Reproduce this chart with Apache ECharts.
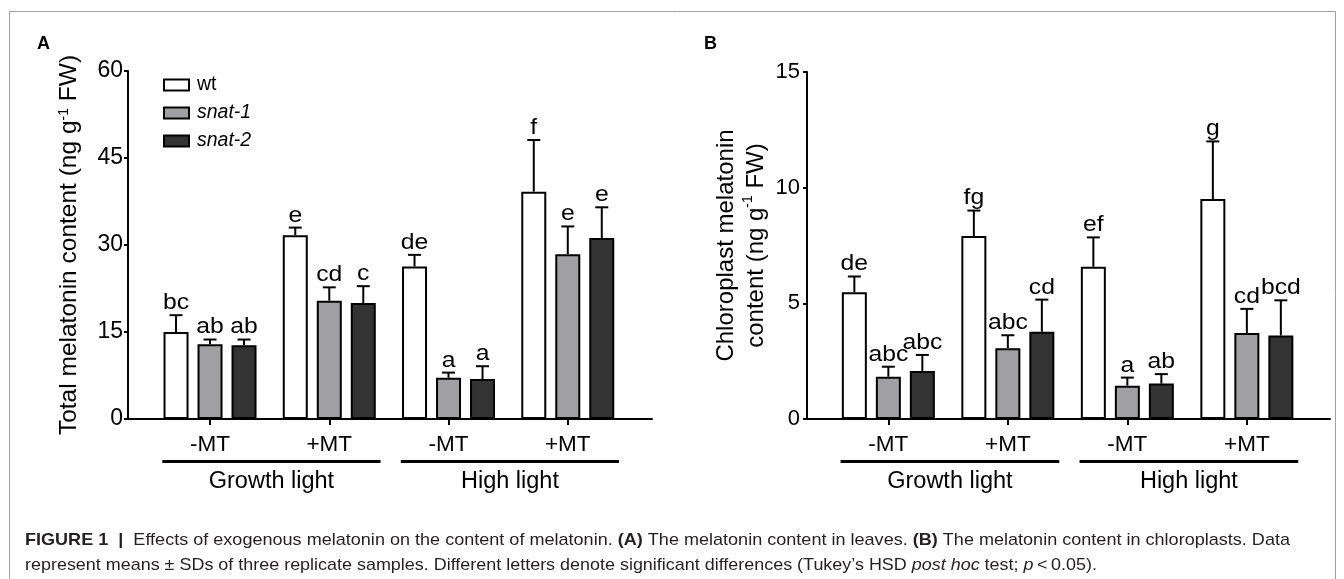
<!DOCTYPE html>
<html><head><meta charset="utf-8">
<script src="https://cdn.jsdelivr.net/npm/echarts@6/dist/echarts.min.js"></script>
<style>html,body{margin:0;padding:0;background:#fff}#c{width:1344px;height:579px}</style>
</head><body><div id="c"></div>
<script>
// ---------- data ----------
const categories = ['-MT', '+MT', '-MT', '+MT'];
const lightGroups = ['Growth light', 'High light'];
const groupStart = [0, 2];
const groupEnd = [1, 3];
const genotypes = ['wt', 'snat-1', 'snat-2'];

// Panel A: total melatonin content (ng g-1 FW)
const totalWt = [15.0, 31.7, 26.3, 39.2];
const totalWtSD = [2.9, 1.3, 2.0, 8.9];
const totalSnat1 = [12.9, 20.4, 7.1, 28.4];
const totalSnat1SD = [0.8, 2.3, 0.9, 4.8];
const totalSnat2 = [12.7, 20.0, 6.9, 31.2];
const totalSnat2SD = [1.0, 2.9, 2.2, 5.3];
const totalWtLetters = ['bc', 'e', 'de', 'f'];
const totalSnat1Letters = ['ab', 'cd', 'a', 'e'];
const totalSnat2Letters = ['ab', 'c', 'a', 'e'];
const totalAxisMax = 60, totalAxisStep = 15;

// Panel B: chloroplast melatonin content (ng g-1 FW)
const chlWt = [5.48, 7.91, 6.58, 9.51];
const chlWtSD = [0.68, 1.10, 1.27, 2.49];
const chlSnat1 = [1.83, 3.06, 1.44, 3.72];
const chlSnat1SD = [0.43, 0.56, 0.35, 1.04];
const chlSnat2 = [2.08, 3.77, 1.53, 3.61];
const chlSnat2SD = [0.69, 1.39, 0.41, 1.52];
const chlWtLetters = ['de', 'fg', 'ef', 'g'];
const chlSnat1Letters = ['abc', 'abc', 'a', 'cd'];
const chlSnat2Letters = ['abc', 'cd', 'ab', 'bcd'];
const chlAxisMax = 15, chlAxisStep = 5;

// ---------- style ----------
const FONT = '"Liberation Sans", Arial, Helvetica, sans-serif';
const COLORS = ['#ffffff', '#a0a0a4', '#333333'];
const BAR_W = 25, BAR_GAP = 9;

const chart = echarts.init(document.getElementById('c'), null, {renderer: 'canvas'});

function barSeries(name, data, g, axisIdx) {
  return {
    type: 'bar', name, data, xAxisIndex: axisIdx, yAxisIndex: axisIdx,
    barWidth: BAR_W, barGap: (BAR_GAP / BAR_W * 100) + '%',
    itemStyle: {color: COLORS[g], borderColor: '#000', borderWidth: 2},
    z: 2, silent: true
  };
}
function errSeries(means, sds, letters, g, axisIdx) {
  return {
    type: 'custom', xAxisIndex: axisIdx, yAxisIndex: axisIdx, z: 3, silent: true,
    data: means.map((m, i) => [i, m, m + sds[i]]),
    encode: {x: 0, y: [1, 2]},
    renderItem: function (params, api) {
      const i = api.value(0);
      const b = api.coord([i, api.value(1)]);
      const t = api.coord([i, api.value(2)]);
      const x = b[0] + (g - 1) * (BAR_W + BAR_GAP);
      return {type: 'group', children: [
        {type: 'line', shape: {x1: x, y1: b[1], x2: x, y2: t[1]}, style: {stroke: '#000', lineWidth: 2}},
        {type: 'line', shape: {x1: x - 6.5, y1: t[1], x2: x + 6.5, y2: t[1]}, style: {stroke: '#000', lineWidth: 2}},
        {type: 'text', x: x, y: t[1] - 1, scaleX: 1.15,
          style: {text: letters[params.dataIndex], x: 0, y: 0, align: 'center', verticalAlign: 'bottom',
            fontSize: 21.5, fontFamily: FONT, fill: '#000'}}
      ]};
    }
  };
}
function groupSeries(axisIdx) {
  return {
    type: 'custom', xAxisIndex: axisIdx, yAxisIndex: axisIdx, silent: true, z: 3,
    data: groupStart.map((s, k) => [s, groupEnd[k], 0]),
    encode: {x: [0, 1], y: 2},
    renderItem: function (params, api) {
      const p0 = api.coord([api.value(0), 0]);
      const p1 = api.coord([api.value(1), 0]);
      const band = api.size([1, 0])[0];
      const x0 = p0[0] - band * 0.40, x1 = p1[0] + band * 0.43;
      return {type: 'group', children: [
        {type: 'line', shape: {x1: x0, y1: p0[1] + 42.5, x2: x1, y2: p0[1] + 42.5}, style: {stroke: '#000', lineWidth: 3}},
        {type: 'text', x: (x0 + x1) / 2, y: p0[1] + 62.5,
          style: {text: lightGroups[params.dataIndex], x: 0, y: 0, align: 'center', verticalAlign: 'middle',
            fontSize: 23.5, fontFamily: FONT, fill: '#000'}}
      ]};
    }
  };
}

const outerX = (gi) => ({type: 'value', gridIndex: gi, min: 0, max: 1,
  axisLine: {show: true, lineStyle: {color: '#000', width: 2}}, axisTick: {show: false},
  axisLabel: {show: false}, splitLine: {show: false}});
const innerX = (gi) => ({type: 'category', gridIndex: gi, data: categories,
  axisLine: {show: false},
  axisTick: {show: true, alignWithLabel: true, length: 6, lineStyle: {color: '#000', width: 2}},
  axisLabel: {color: '#000', fontSize: 22.5, fontFamily: FONT, margin: 14}, splitLine: {show: false}});
const hiddenY = (gi, max) => ({type: 'value', gridIndex: gi, min: 0, max: max, show: false});
const supRichA = {n: {fontSize: 24.5, color: '#000', fontFamily: FONT}, s: {fontSize: 14, color: '#000', verticalAlign: 'top', fontFamily: FONT}};
const supRichB = {n: {fontSize: 24, color: '#000', fontFamily: FONT, lineHeight: 30}, s: {fontSize: 14, color: '#000', verticalAlign: 'top', fontFamily: FONT}};

const option = {
  animation: false,
  textStyle: {fontFamily: FONT},
  title: [
    {text: 'A', left: 37, top: 35, padding: 0, textStyle: {fontSize: 18, fontWeight: 'bold', color: '#000', fontFamily: FONT}},
    {text: 'B', left: 704, top: 35, padding: 0, textStyle: {fontSize: 18, fontWeight: 'bold', color: '#000', fontFamily: FONT}}
  ],
  legend: {
    data: genotypes, left: 163, top: 75, orient: 'vertical', icon: 'rect',
    itemWidth: 25, itemHeight: 11, itemGap: 8, padding: 0, selectedMode: false,
    formatter: (n) => n === 'wt' ? n : '{i|' + n + '}',
    textStyle: {fontSize: 19.5, color: '#000', fontFamily: FONT, lineHeight: 12, padding: [0, 0, 0, 3],
      rich: {i: {fontStyle: 'italic', fontSize: 19.5, color: '#000', fontFamily: FONT, lineHeight: 12}}}
  },
  grid: [
    {left: 128, top: 71, width: 524, height: 348, outerBoundsMode: 'none'},
    {left: 150.4, top: 71, width: 477, height: 348, outerBoundsMode: 'none'},
    {left: 807, top: 72, width: 523, height: 347, outerBoundsMode: 'none'},
    {left: 828.6, top: 72, width: 478, height: 347, outerBoundsMode: 'none'}
  ],
  xAxis: [outerX(0), innerX(1), outerX(2), innerX(3)],
  yAxis: [
    {type: 'value', gridIndex: 0, min: 0, max: totalAxisMax, interval: totalAxisStep,
      axisLine: {show: true, lineStyle: {color: '#000', width: 2}},
      axisTick: {show: true, length: 4, lineStyle: {color: '#000', width: 2}},
      axisLabel: {color: '#000', fontSize: 23, fontFamily: FONT, margin: 5}, splitLine: {show: false},
      name: '{n|Total melatonin content (ng g}{s|-1}{n| FW)}', nameLocation: 'middle', nameGap: 46,
      nameTextStyle: {color: '#000', fontSize: 24.5, fontFamily: FONT, rich: supRichA}},
    hiddenY(1, totalAxisMax),
    {type: 'value', gridIndex: 2, min: 0, max: chlAxisMax, interval: chlAxisStep,
      axisLine: {show: true, lineStyle: {color: '#000', width: 2}},
      axisTick: {show: true, length: 4, lineStyle: {color: '#000', width: 2}},
      axisLabel: {color: '#000', fontSize: 22, fontFamily: FONT, margin: 7}, splitLine: {show: false},
      name: '{n|Chloroplast melatonin}\n{n|content (ng g}{s|-1}{n| FW)}', nameLocation: 'middle', nameGap: 34,
      nameTextStyle: {color: '#000', fontSize: 24, lineHeight: 30, fontFamily: FONT, rich: supRichB}},
    hiddenY(3, chlAxisMax)
  ],
  series: [
    barSeries('wt', totalWt, 0, 1), barSeries('snat-1', totalSnat1, 1, 1), barSeries('snat-2', totalSnat2, 2, 1),
    errSeries(totalWt, totalWtSD, totalWtLetters, 0, 1),
    errSeries(totalSnat1, totalSnat1SD, totalSnat1Letters, 1, 1),
    errSeries(totalSnat2, totalSnat2SD, totalSnat2Letters, 2, 1),
    groupSeries(1),
    barSeries('wt', chlWt, 0, 3), barSeries('snat-1', chlSnat1, 1, 3), barSeries('snat-2', chlSnat2, 2, 3),
    errSeries(chlWt, chlWtSD, chlWtLetters, 0, 3),
    errSeries(chlSnat1, chlSnat1SD, chlSnat1Letters, 1, 3),
    errSeries(chlSnat2, chlSnat2SD, chlSnat2Letters, 2, 3),
    groupSeries(3)
  ]
};

// ---------- caption ----------
const capLine1 = [
  ['b', 'FIGURE 1  |  '], ['n', 'Effects of exogenous melatonin on the content of melatonin. '],
  ['b', '(A)'], ['n', ' The melatonin content in leaves. '], ['b', '(B)'],
  ['n', ' The melatonin content in chloroplasts. Data']
];
const capLine2 = [
  ['n', 'represent means \u00b1 SDs of three replicate samples. Different letters denote significant differences (Tukey\u2019s HSD '],
  ['i', 'post hoc'], ['n', ' test; '], ['i', 'p'], ['n', '\u2009<\u20090.05).']
];
const CAP_SIZE = 17;
const capRich = {
  n: {fontSize: CAP_SIZE, fontFamily: FONT, fill: '#231f20'},
  b: {fontSize: CAP_SIZE, fontFamily: FONT, fontWeight: 'bold', fill: '#231f20'},
  i: {fontSize: CAP_SIZE, fontFamily: FONT, fontStyle: 'italic', fill: '#231f20'}
};
const mctx = document.createElement('canvas').getContext('2d');
function segWidth(segs) {
  let w = 0;
  segs.forEach(([k, t]) => {
    mctx.font = (k === 'i' ? 'italic ' : '') + (k === 'b' ? 'bold ' : '') + CAP_SIZE + 'px ' + FONT;
    w += mctx.measureText(t).width;
  });
  return w;
}
function capText(segs, y, targetW) {
  return {type: 'text', x: 25, y: y, scaleX: targetW / segWidth(segs), silent: true,
    style: {text: segs.map(([k, t]) => '{' + k + '|' + t + '}').join(''), rich: capRich,
      x: 0, y: 0, verticalAlign: 'middle', align: 'left', fontSize: CAP_SIZE, fontFamily: FONT, fill: '#231f20'}};
}
option.graphic = [
  {type: 'rect', shape: {x: 9.5, y: 11.5, width: 1326, height: 620}, style: {fill: 'none', stroke: '#a0a0a0', lineWidth: 1}, silent: true},
  capText(capLine1, 540, 1265),
  capText(capLine2, 565, 1072)
];

chart.setOption(option);
</script>
</body></html>
